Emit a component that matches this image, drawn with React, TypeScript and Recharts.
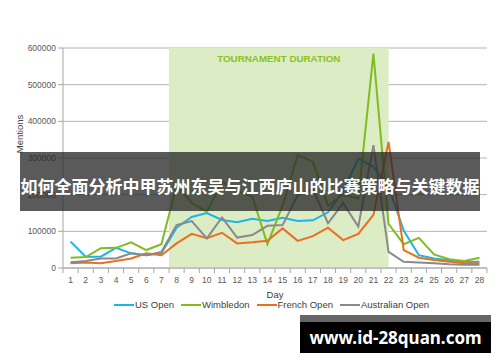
import React from "react";
import {
  LineChart,
  Line,
  XAxis,
  YAxis,
  CartesianGrid,
  ReferenceArea,
  Legend,
} from "recharts";

const days = [
  1, 2, 3, 4, 5, 6, 7, 8, 9, 10, 11, 12, 13, 14, 15, 16, 17, 18, 19, 20, 21,
  22, 23, 24, 25, 26, 27, 28,
];

const usOpen = [
  72000, 31000, 31000, 55000, 40000, 35000, 40000, 110000, 139000, 150000,
  131000, 125000, 134000, 128000, 137000, 128000, 130000, 152000, 210000,
  298000, 276000, 222000, 102000, 35000, 26000, 21000, 17000, 17000,
];

const wimbledon = [
  28000, 30000, 54000, 55000, 70000, 49000, 65000, 225000, 178000, 153000,
  235000, 210000, 195000, 65000, 170000, 308000, 290000, 170000, 200000,
  190000, 585000, 120000, 65000, 82000, 37000, 24000, 19000, 28000,
];

const frenchOpen = [
  13000, 15000, 13000, 19000, 26000, 40000, 35000, 67000, 93000, 81000, 96000,
  67000, 70000, 74000, 108000, 74000, 87000, 110000, 76000, 93000, 145000,
  344000, 49000, 28000, 22000, 17000, 13000, 13000,
];

const australianOpen = [
  15500, 19000, 26000, 26000, 40000, 35000, 44000, 117000, 128000, 81000,
  138000, 83000, 90000, 115000, 117000, 198000, 215000, 122000, 177000, 113000,
  335000, 44000, 17000, 15000, 13000, 10000, 9000, 9000,
];

const yTicks = [0, 100000, 200000, 300000, 400000, 500000, 600000];

const series = [
  { key: "usOpen", name: "US Open", color: "#1eb4e6" },
  { key: "wimbledon", name: "Wimbledon", color: "#80bc1e" },
  { key: "frenchOpen", name: "French Open", color: "#e8701e" },
  { key: "australianOpen", name: "Australian Open", color: "#8a8a8a" },
];

const data = days.map((day, i) => ({
  day,
  usOpen: usOpen[i],
  wimbledon: wimbledon[i],
  frenchOpen: frenchOpen[i],
  australianOpen: australianOpen[i],
}));

const margin = { top: 48, right: 13, bottom: 64, left: 0 };
const yAxisWidth = 63;
const plotWidth = 500 - margin.left - margin.right - yAxisWidth;
const halfBand = plotWidth / days.length / 2;
const axisGray = "#a6a6a6";
const textGray = "#595959";

const DayTick = (props: any) => {
  const { x, y, payload, index } = props;
  const last = index === days.length - 1;
  return (
    <g>
      <line x1={x - halfBand} x2={x - halfBand} y1={y - 8} y2={y - 3} stroke={axisGray} />
      {last && (
        <line x1={x + halfBand} x2={x + halfBand} y1={y - 8} y2={y - 3} stroke={axisGray} />
      )}
      <text x={x} y={y + 7} textAnchor="middle" fontSize={8.5} fill={textGray}>
        {payload.value}
      </text>
    </g>
  );
};

const LegendContent = () => (
  <div
    style={{
      display: "flex",
      justifyContent: "center",
      fontSize: 9.5,
      color: "#404040",
      lineHeight: "11px",
    }}
  >
    {series.map((s) => (
      <span
        key={s.key}
        style={{ display: "flex", alignItems: "center", marginRight: 7 }}
      >
        <span
          style={{
            display: "inline-block",
            width: 20,
            height: 2,
            background: s.color,
            marginRight: 1,
          }}
        />
        {s.name}
      </span>
    ))}
  </div>
);

export default function App() {
  return (
    <div
      style={{
        position: "absolute",
        left: 0,
        top: 0,
        width: 500,
        height: 362,
        background: "#fff",
        fontFamily: '"Liberation Sans", Arial, sans-serif',
        overflow: "hidden",
      }}
    >
      <LineChart width={500} height={362} data={data} margin={margin}>
        <ReferenceArea
          x1={7.5}
          x2={22}
          fill="#dcecc4"
          fillOpacity={1}
          stroke="none"
          label={{
            value: "TOURNAMENT DURATION",
            position: "insideTop",
            offset: 7,
            fill: "#8cc21f",
            fontSize: 9.8,
            fontWeight: "bold",
          }}
        />
        <CartesianGrid vertical={false} stroke="#b4b4b4" />
        <XAxis
          dataKey="day"
          type="number"
          domain={[0.5, 28.5]}
          ticks={days}
          interval={0}
          tickLine={false}
          axisLine={{ stroke: axisGray }}
          height={30}
          tick={<DayTick />}
          label={{
            value: "Day",
            position: "insideBottom",
            offset: 0,
            fontSize: 9.5,
            fill: "#404040",
          }}
        />
        <YAxis
          domain={[0, 600000]}
          ticks={yTicks}
          width={yAxisWidth}
          tickSize={5}
          axisLine={{ stroke: axisGray }}
          tickLine={{ stroke: axisGray }}
          tick={{ fontSize: 8.5, fill: textGray }}
          label={{
            content: () => (
              <text
                x={19}
                y={134}
                transform="rotate(-90 19 134)"
                textAnchor="middle"
                dominantBaseline="central"
                fontSize={9.5}
                fill="#404040"
              >
                Mentions
              </text>
            ),
          }}
        />
        {series.map((s) => (
          <Line
            key={s.key}
            dataKey={s.key}
            name={s.name}
            type="linear"
            stroke={s.color}
            strokeWidth={2}
            dot={false}
            isAnimationActive={false}
          />
        ))}
        <Legend
          layout="horizontal"
          verticalAlign="middle"
          align="center"
          wrapperStyle={{ top: 299, left: 63, width: 424 }}
          content={<LegendContent />}
        />
      </LineChart>
      <div
        style={{
          position: "absolute",
          left: 20,
          top: 152,
          width: 460,
          height: 59,
          boxSizing: "border-box",
          paddingTop: 8,
          background: "rgba(40,40,40,0.77)",
          color: "#fff",
          fontFamily: '"Noto Sans CJK SC", sans-serif',
          fontWeight: "bold",
          fontSize: 17,
          display: "flex",
          alignItems: "center",
          justifyContent: "center",
          whiteSpace: "nowrap",
        }}
      >
        如何全面分析中甲苏州东吴与江西庐山的比赛策略与关键数据
      </div>
      <div
        style={{
          position: "absolute",
          left: 300,
          top: 315,
          width: 191,
          height: 38,
          boxSizing: "border-box",
          borderTop: "7px solid #666",
          background: "#000",
          color: "#fff",
          fontFamily: '"Noto Sans", sans-serif',
          fontWeight: "bold",
          fontSize: 17,
          display: "flex",
          alignItems: "center",
          justifyContent: "center",
          whiteSpace: "nowrap",
        }}
      >
        www.id-28quan.com
      </div>
    </div>
  );
}
